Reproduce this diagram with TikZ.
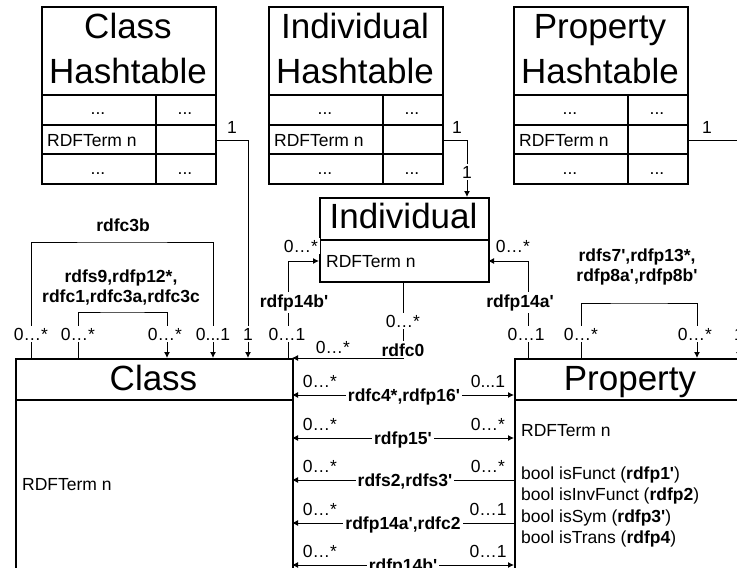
\documentclass[tikz,border=0pt]{standalone}
\usepackage{fontspec}
\setmainfont{Liberation Sans}[Ligatures=TeXOff]
\usetikzlibrary{arrows.meta}
\begin{document}
\begin{tikzpicture}[x=1pt,y=-1pt,
  box/.style={draw, line width=2pt, inner sep=0pt, anchor=north west},
  thk/.style={line width=2pt},
  conn/.style={line width=1pt},
  arr/.style={conn, -{Latex[length=6pt,width=6pt]}},
  darr/.style={conn, {Latex[length=6pt,width=6pt]}-{Latex[length=6pt,width=6pt]}},
  sm/.style={font=\fontsize{17.5}{21}\selectfont, inner sep=0pt, anchor=base},
  lbl/.style={sm, fill=white, inner sep=2pt},
  blbl/.style={lbl, font=\fontsize{17.5}{21}\selectfont\bfseries},
  big/.style={font=\fontsize{35}{44}\selectfont, inner sep=0pt, anchor=base},
]
\useasboundingbox (0,0) rectangle (737,568);
\clip (0,0) rectangle (737,568);

% ---- Hashtables ----
\foreach \n/\x/\t in {ch/41/Class, ih/268/Individual, ph/513/Property} {
  \node[box, minimum width=174, minimum height=177] (\n) at (\x,6) {};
  \draw[thk] (\x,95) -- ++(174,0) (\x,125) -- ++(174,0) (\x,154) -- ++(174,0)
             (\x+115,95) -- (\x+115,183);
  \node[big] (\n-t1) at (\x+87,38) {\t};
  \node[big] (\n-t2) at (\x+87,83) {Hashtable};
  \node[sm] (\n-a) at (\x+57,114) {...};
  \node[sm] (\n-b) at (\x+144,114) {...};
  \node[sm, anchor=base west] (\n-c) at (\x+6,146) {RDFTerm n};
  \node[sm] (\n-d) at (\x+57,174) {...};
  \node[sm] (\n-e) at (\x+144,174) {...};
  \coordinate (\n-out) at (\x+174,140);
}

% ---- Individual ----
\node[box, minimum width=169, minimum height=84] (ind) at (319,197) {};
\draw[thk] (319,240) -- (488,240);
\node[big] (ind-t) at (403.5,228) {Individual};
\node[sm, anchor=base west] (ind-a) at (326,267) {RDFTerm n};

% ---- Class ----
\node[box, minimum width=277, minimum height=300] (cls) at (15,358) {};
\draw[thk] (15,400) -- (292,400);
\node[big] (cls-t) at (153.5,390) {Class};
\node[sm, anchor=base west] (cls-a) at (22,490) {RDFTerm n};

% ---- Property ----
\node[box, minimum width=232, minimum height=300] (prop) at (514,358) {};
\draw[thk] (514,400) -- (746,400);
\node[big] (prop-t) at (630,390) {Property};
\node[sm, anchor=base west] (prop-a1) at (521,436) {RDFTerm n};
\node[sm, anchor=base west] (prop-a2) at (521,479) {bool isFunct (\textbf{rdfp1'})};
\node[sm, anchor=base west] (prop-a3) at (521,500) {bool isInvFunct (\textbf{rdfp2})};
\node[sm, anchor=base west] (prop-a4) at (521,522) {bool isSym (\textbf{rdfp3'})};
\node[sm, anchor=base west] (prop-a5) at (521,543) {bool isTrans (\textbf{rdfp4})};

% ---- connection points ----
\coordinate (cls-h) at (248,358);
\coordinate (ind-h) at (467,197);
\coordinate (prop-h) at (739,358);
\coordinate (c3a) at (31,358);   \coordinate (c3b) at (213,358);
\coordinate (c9a) at (78,358);   \coordinate (c9b) at (167,358);
\coordinate (p7a) at (581,358);  \coordinate (p7b) at (697,358);
\coordinate (cls-b) at (288,358); \coordinate (ind-w) at (319,261);
\coordinate (ind-s) at (403,281); \coordinate (cls-ne) at (292,358);
\coordinate (prop-b) at (528,358); \coordinate (ind-e) at (488,261);
\foreach \i/\y in {1/395, 2/438, 3/480, 4/523, 5/565} {
  \coordinate (cls-r\i) at (292,\y);
  \coordinate (prop-r\i) at (514,\y);
}

% ---- hashtable connectors ----
\draw[arr] (ch-out) -| (cls-h);
\node[lbl] (l1) at (232,133) {1};
\node[lbl] (l2) at (248,340) {1};
\draw[arr] (ih-out) -| (ind-h);
\node[lbl] (l3) at (457,133) {1};
\node[lbl] (l4) at (467,178) {1};
\draw[arr] (ph-out) -| (prop-h);
\node[lbl] (l5) at (707,133) {1};
\node[lbl] (l6) at (739,340) {1};

% ---- Class self loops ----
\draw[arr] (c3a) |- (122,242) -| (c3b);
\node[blbl] (n3b) at (123,231) {rdfc3b};
\node[lbl] (m1) at (31,340) {0…*};
\node[lbl] (m2) at (213,340) {0...1};
\draw[arr] (c9a) |- (122,312) -| (c9b);
\node[blbl] (n9a) at (121,282) {rdfs9,rdfp12*,};
\node[blbl] (n9b) at (121,302) {rdfc1,rdfc3a,rdfc3c};
\node[lbl] (m3) at (78,340) {0…*};
\node[lbl] (m4) at (165,340) {0…*};

% ---- Property self loop ----
\draw[arr] (p7a) |- (639,303) -| (p7b);
\node[blbl] (n7a) at (637,261) {rdfs7',rdfp13*,};
\node[blbl] (n7b) at (637,281) {rdfp8a',rdfp8b'};
\node[lbl] (m5) at (581,340) {0…*};
\node[lbl] (m6) at (695,340) {0…*};

% ---- Individual connectors ----
\draw[arr] (cls-b) |- (ind-w);
\node[blbl] (n14b) at (294,307) {rdfp14b'};
\node[lbl] (m7) at (287,340) {0…1};
\node[lbl] (m8) at (301,252) {0…*};

\draw[arr] (ind-s) |- (cls-ne);
\node[lbl] (m9) at (403,327) {0…*};
\node[blbl] (nc0) at (403,356) {rdfc0};
\node[lbl] (m10) at (333,353) {0…*};

\draw[arr] (prop-b) |- (ind-e);
\node[blbl] (n14a) at (520,307) {rdfp14a'};
\node[lbl] (m11) at (526,340) {0…1};
\node[lbl] (m12) at (513,252) {0…*};

% ---- Class <-> Property ----
\draw[darr] (cls-r1) -- (prop-r1);
\node[blbl] (r1) at (404,401) {rdfc4*,rdfp16'};
\node[lbl] (r1l) at (320,387) {0…*};
\node[lbl] (r1r) at (488,387) {0...1};

\draw[darr] (cls-r2) -- (prop-r2);
\node[blbl] (r2) at (403,444) {rdfp15'};
\node[lbl] (r2l) at (320,430) {0…*};
\node[lbl] (r2r) at (488,430) {0…*};

\draw[arr] (prop-r3) -- (cls-r3);
\node[blbl] (r3) at (405,486) {rdfs2,rdfs3'};
\node[lbl] (r3l) at (320,472) {0…*};
\node[lbl] (r3r) at (488,472) {0…*};

\draw[arr] (prop-r4) -- (cls-r4);
\node[blbl] (r4) at (403,529) {rdfp14a',rdfc2};
\node[lbl] (r4l) at (320,515) {0…*};
\node[lbl] (r4r) at (488,515) {0…1};

\draw[darr] (cls-r5) -- (prop-r5);
\node[blbl] (r5) at (403,571) {rdfp14b'};
\node[lbl] (r5l) at (320,557) {0…*};
\node[lbl] (r5r) at (488,557) {0…1};
\end{tikzpicture}
\end{document}
